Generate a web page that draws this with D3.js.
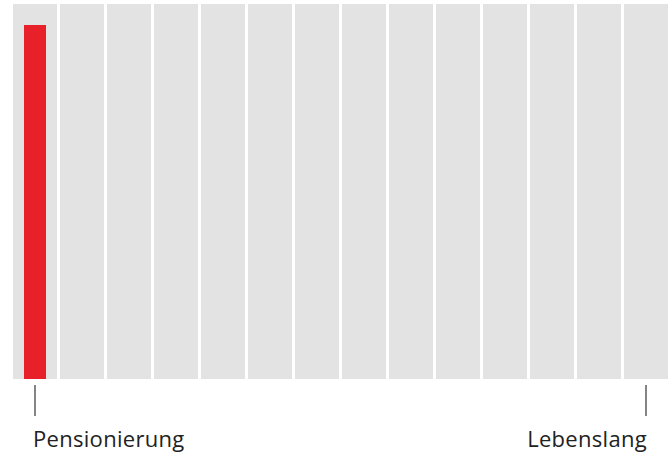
<!DOCTYPE html>
<html>
<head>
<meta charset="utf-8">
<script src="https://cdn.jsdelivr.net/npm/d3@7"></script>
<style>
  html, body { margin: 0; padding: 0; background: #fff; }
  svg { display: block; }
</style>
</head>
<body>
<svg id="chart" width="670" height="460"></svg>
<script>
// Data
const categories = ["1","2","3","4","5","6","7","8","9","10","11","12","13","14"];
const backgroundValues = [100,100,100,100,100,100,100,100,100,100,100,100,100,100];
const highlightCategories = ["1"];
const highlightValues = [94.4];
const tickCategories = ["1", "14"];
const tickLabels = ["Pensionierung", "Lebenslang"];

const svg = d3.select("#chart");

const x = d3.scaleBand()
  .domain(categories)
  .range([13, 668])
  .paddingInner(3 / 47)
  .paddingOuter(0);

const y = d3.scaleLinear()
  .domain([0, 100])
  .range([379, 4]);

// Background columns
svg.append("g")
  .selectAll("rect")
  .data(categories.map((c, i) => ({ c, v: backgroundValues[i] })))
  .join("rect")
  .attr("x", d => x(d.c))
  .attr("y", d => y(d.v))
  .attr("width", x.bandwidth())
  .attr("height", d => y(0) - y(d.v))
  .attr("fill", "#e3e3e3");

// Highlight bar
const bw = x.bandwidth() * 0.5;
svg.append("g")
  .selectAll("rect")
  .data(highlightCategories.map((c, i) => ({ c, v: highlightValues[i] })))
  .join("rect")
  .attr("x", d => x(d.c) + x.bandwidth() / 2 - bw / 2)
  .attr("y", d => y(d.v))
  .attr("width", bw)
  .attr("height", d => y(0) - y(d.v))
  .attr("fill", "#e8202a");

// Axis ticks & labels
const axis = d3.axisBottom(x)
  .tickValues(tickCategories)
  .tickSize(31)
  .tickSizeOuter(0)
  .tickFormat((d, i) => tickLabels[i]);

const gAxis = svg.append("g")
  .attr("transform", "translate(0,385)")
  .call(axis);

gAxis.select(".domain").remove();
gAxis.selectAll(".tick line")
  .attr("stroke", "#333")
  .attr("stroke-width", 1.2);
gAxis.selectAll(".tick text")
  .attr("fill", "#222")
  .attr("font-family", "'Open Sans', sans-serif")
  .attr("font-size", 22)
  .attr("letter-spacing", 0.3)
  .attr("dy", 0)
  .attr("y", 62)
  .attr("text-anchor", (d, i) => i === 0 ? "start" : "end")
  .attr("dx", (d, i) => i === 0 ? -2 : 1);
</script>
</body>
</html>
